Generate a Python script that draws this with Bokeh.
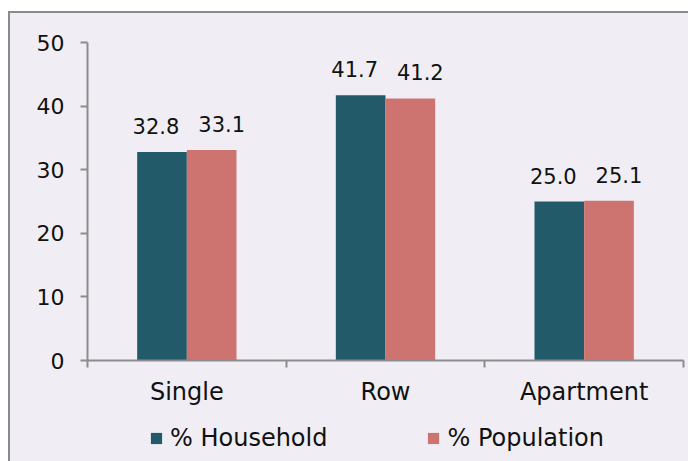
from bokeh.plotting import figure
from bokeh.layouts import column
from bokeh.models import Range1d, FixedTicker, ColumnDataSource, Legend, LegendItem
from bokeh.core.properties import value
from bokeh.embed import file_html
from bokeh.resources import INLINE

categories = ["Single", "Row", "Apartment"]
household = [32.8, 41.7, 25.0]
population = [33.1, 41.2, 25.1]
series_names = ["% Household", "% Population"]
y_ticks = [0, 10, 20, 30, 40, 50]

BG = "#F0EEF4"
TEAL = "#225A69"
SALMON = "#CD7471"
AXIS = "#8C8C8C"
FONT = "DejaVu Sans"
TXT = "#111111"

centers = [i + 0.5 for i in range(len(categories))]
bw = 0.25
src = ColumnDataSource(dict(
    xh=[c - bw / 2 for c in centers],
    xp=[c + bw / 2 for c in centers],
    h=household, p=population,
    ht=[f"{v:.1f}" for v in household],
    pt=[f"{v:.1f}" for v in population],
))

W = 678
p = figure(width=W, height=399, output_backend="svg", toolbar_location=None,
           x_range=Range1d(0, len(categories)), y_range=Range1d(0, 50),
           min_border_left=77, min_border_top=29, min_border_right=5, min_border_bottom=52)
p.background_fill_color = None
p.border_fill_color = BG
p.outline_line_color = None
p.grid.visible = False

r1 = p.vbar(x="xh", top="h", width=bw, source=src, fill_color=TEAL, line_color=None)
r2 = p.vbar(x="xp", top="p", width=bw, source=src, fill_color=SALMON, line_color=None)

for col, xcol, ycol, dx in (("ht", "xh", "h", -6), ("pt", "xp", "p", 10)):
    p.text(x=xcol, y=ycol, text=col, source=src, text_align="center",
           text_baseline="alphabetic", y_offset=-26, x_offset=dx,
           text_font=value(FONT), text_font_size="21px", text_color=TXT)

xa = p.xaxis[0]
xa.ticker = FixedTicker(ticks=centers, minor_ticks=list(range(len(categories) + 1)))
xa.major_label_overrides = {c: n for c, n in zip(centers, categories)}
xa.major_tick_line_color = None
xa.major_tick_out = 7
xa.major_tick_in = 0
xa.minor_tick_line_color = AXIS
xa.minor_tick_out = 7
xa.minor_tick_in = 0
xa.axis_line_color = AXIS
xa.axis_line_width = 2
xa.minor_tick_line_width = 2
xa.major_label_standoff = 10
xa.major_label_text_font = FONT
xa.major_label_text_font_size = "24px"
xa.major_label_text_color = TXT

ya = p.yaxis[0]
ya.ticker = FixedTicker(ticks=y_ticks)
ya.minor_tick_line_color = None
ya.major_tick_out = 7
ya.major_tick_in = 0
ya.major_tick_line_color = AXIS
ya.major_tick_line_width = 2
ya.axis_line_color = AXIS
ya.axis_line_width = 2
ya.major_label_standoff = 16
ya.major_label_text_font = FONT
ya.major_label_text_font_size = "22px"
ya.major_label_text_color = TXT

# legend strip (swatch renderers have zero height, only the legend shows them)
p2 = figure(width=W, height=49, output_backend="svg", toolbar_location=None,
            x_range=Range1d(0, 1), y_range=Range1d(0, 1),
            x_axis_type=None, y_axis_type=None,
            min_border_left=0, min_border_right=0, min_border_top=0, min_border_bottom=0)
p2.background_fill_color = None
p2.border_fill_color = BG
p2.outline_line_color = None
p2.grid.visible = False
d1 = p2.vbar(x=[0.5], top=[0], width=bw, fill_color=TEAL, line_color=None)
d2 = p2.vbar(x=[0.5], top=[0], width=bw, fill_color=SALMON, line_color=None)
legend = Legend(items=[LegendItem(label=series_names[0], renderers=[d1]),
                       LegendItem(label=series_names[1], renderers=[d2])],
                orientation="horizontal", location=(62, 9),
                background_fill_alpha=0, border_line_color=None,
                glyph_width=14, glyph_height=14, label_standoff=7, spacing=99,
                label_text_font=FONT, label_text_font_size="24px",
                label_text_color=TXT, padding=0, margin=0)
p2.add_layout(legend)

layout = column(p, p2, spacing=0,
                styles={"margin-left": "8px", "margin-top": "11px",
                        "background-color": BG,
                        "border-left": "2px solid #8A8A8A", "border-top": "2px solid #8A8A8A"})

open("out.html", "w").write(file_html(layout, INLINE))
